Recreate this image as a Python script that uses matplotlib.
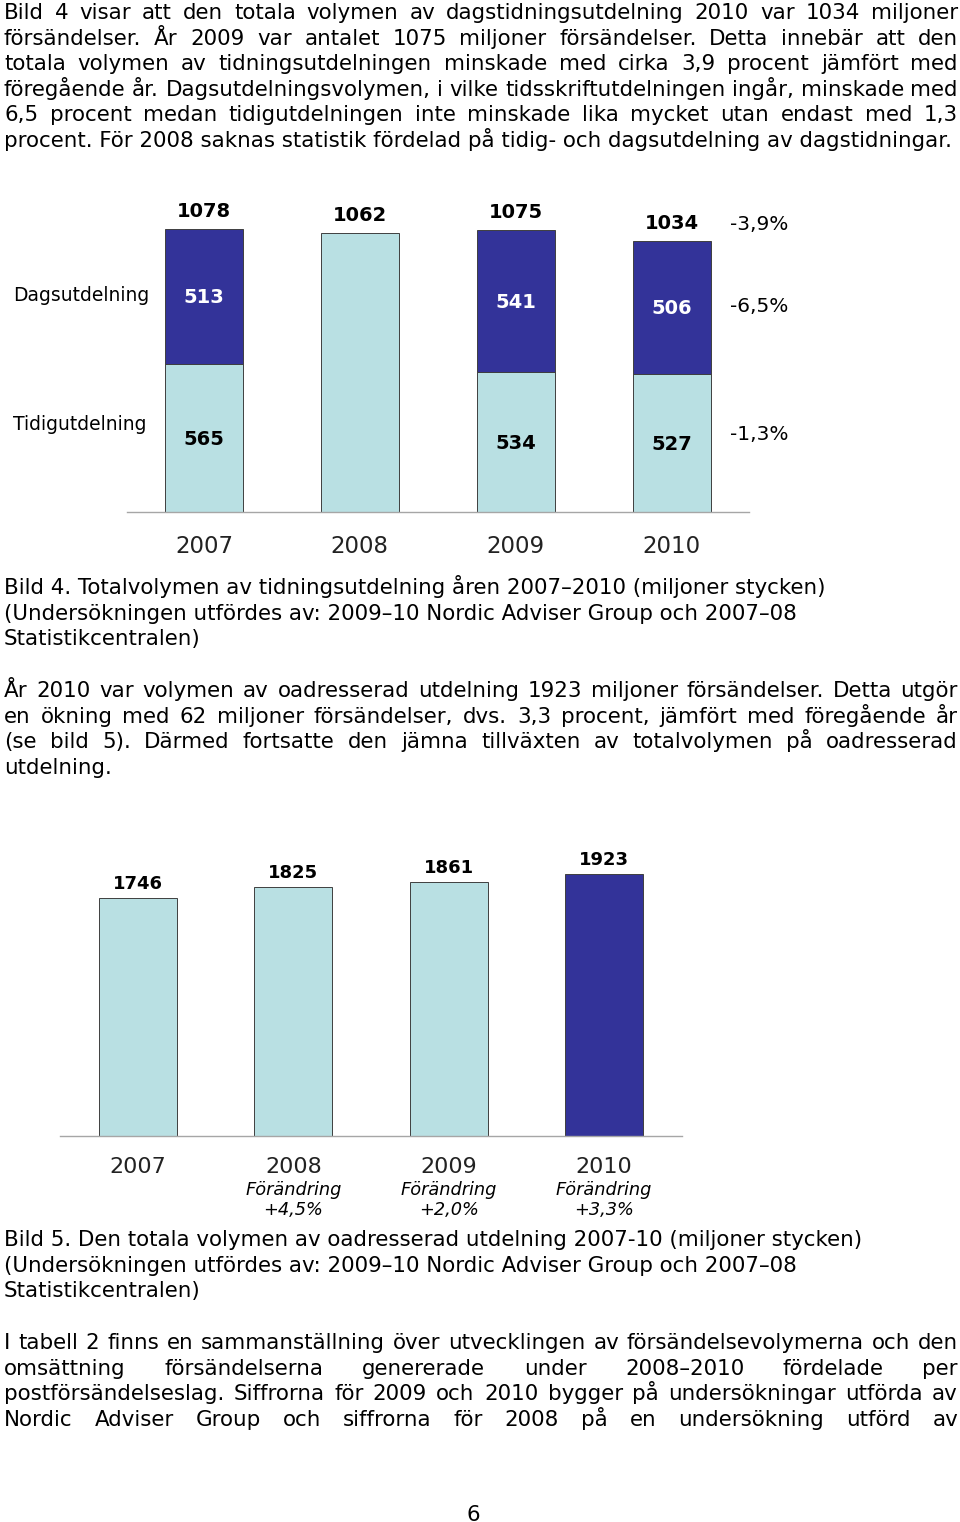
import matplotlib
matplotlib.use("Agg")
import matplotlib.pyplot as plt

W, H = 960, 1522

# --- chart data -----------------------------------------------------------
years = ["2007", "2008", "2009", "2010"]
tidig = [565, None, 534, 527]          # Tidigutdelning (miljoner)
dags = [513, None, 541, 506]           # Dagsutdelning (miljoner)
totals = [1078, 1062, 1075, 1034]
change_labels = ["-3,9%", "-6,5%", "-1,3%"]
row_labels = ["Dagsutdelning", "Tidigutdelning"]

unaddr_years = ["2007", "2008", "2009", "2010"]
unaddr = [1746, 1825, 1861, 1923]
unaddr_change = ["", "+4,5%", "+2,0%", "+3,3%"]

LIGHT = "#B9E0E3"
DARK = "#333399"
EDGE = "#3F3F3F"
AXIS = "#A6A6A6"

# --- page text ------------------------------------------------------------
para1 = [
    "Bild 4 visar att den totala volymen av dagstidningsutdelning 2010 var 1034 miljoner",
    "försändelser. År 2009 var antalet 1075 miljoner försändelser. Detta innebär att den",
    "totala volymen av tidningsutdelningen minskade med cirka 3,9 procent jämfört med",
    "föregående år. Dagsutdelningsvolymen, i vilke tidsskriftutdelningen ingår, minskade med",
    "6,5 procent medan tidigutdelningen inte minskade lika mycket utan endast med 1,3",
    "procent. För 2008 saknas statistik fördelad på tidig- och dagsutdelning av dagstidningar.",
]
caption4 = [
    "Bild 4. Totalvolymen av tidningsutdelning åren 2007–2010 (miljoner stycken)",
    "(Undersökningen utfördes av: 2009–10 Nordic Adviser Group och 2007–08",
    "Statistikcentralen)",
]
para2 = [
    "År 2010 var volymen av oadresserad utdelning 1923 miljoner försändelser. Detta utgör",
    "en ökning med 62 miljoner försändelser, dvs. 3,3 procent, jämfört med föregående år",
    "(se bild 5). Därmed fortsatte den jämna tillväxten av totalvolymen på oadresserad",
    "utdelning.",
]
caption5 = [
    "Bild 5. Den totala volymen av oadresserad utdelning 2007-10 (miljoner stycken)",
    "(Undersökningen utfördes av: 2009–10 Nordic Adviser Group och 2007–08",
    "Statistikcentralen)",
]
para3 = [
    "I tabell 2 finns en sammanställning över utvecklingen av försändelsevolymerna och den",
    "omsättning försändelserna genererade under 2008–2010 fördelade per",
    "postförsändelseslag. Siffrorna för 2009 och 2010 bygger på undersökningar utförda av",
    "Nordic Adviser Group och siffrorna för 2008 på en undersökning utförd av",
]

fig = plt.figure(figsize=(W / 100, H / 100), dpi=100)
renderer = fig.canvas.get_renderer()


def ptext(x, y, s, **kw):
    # place text using pixel coordinates measured from the top-left corner
    return fig.text(x / W, 1 - y / H, s, **kw)


def text_width(s, fs):
    t = fig.text(0, 0, s, fontsize=fs)
    w = t.get_window_extent(renderer).width
    t.remove()
    return w


# body font size fitted so the first caption line spans the same width
BODY_FS = 10 * 824 / text_width(caption4[0], 10)
X0, X1 = 4, 958
LINE = 25.6


def justified(lines, y0, last_justified=False):
    for i, line in enumerate(lines):
        y = y0 + i * LINE
        last = i == len(lines) - 1
        if last and not last_justified:
            ptext(X0, y, line, fontsize=BODY_FS, va="baseline")
            continue
        words = line.split(" ")
        widths = [text_width(w, BODY_FS) for w in words]
        gap = (X1 - X0 - sum(widths)) / (len(words) - 1)
        x = X0
        for w, wd in zip(words, widths):
            ptext(x, y, w, fontsize=BODY_FS, va="baseline")
            x += wd + gap


def plain(lines, y0):
    for i, line in enumerate(lines):
        ptext(X0, y0 + i * LINE, line, fontsize=BODY_FS, va="baseline")


justified(para1, 19)
plain(caption4, 594)
justified(para2, 697)
plain(caption5, 1246)
justified(para3, 1349, last_justified=True)
ptext(473, 1521, "6", fontsize=BODY_FS, va="baseline", ha="center")

# -----------------------------------------------------------------
# Bild 4: stacked bars, tidig + dags
# -----------------------------------------------------------------
ax1 = fig.add_axes([127 / W, 1 - 512 / H, 622 / W, 332 / H])
x = list(range(len(years)))
lower = [t if t is not None else tot for t, tot in zip(tidig, totals)]
ax1.bar(x, lower, width=0.5, color=LIGHT, edgecolor=EDGE, linewidth=0.7)
for i in x:
    if dags[i] is not None:
        ax1.bar(i, dags[i], bottom=tidig[i], width=0.5, color=DARK,
                edgecolor=EDGE, linewidth=0.7)
        ax1.annotate(str(dags[i]), (i, tidig[i] + dags[i] / 2),
                     xytext=(0, -7), textcoords="offset pixels",
                     ha="center", va="baseline", fontsize=14,
                     fontweight="bold", color="white")
        ax1.annotate(str(tidig[i]), (i, tidig[i] / 2),
                     xytext=(0, -7), textcoords="offset pixels",
                     ha="center", va="baseline", fontsize=14,
                     fontweight="bold", color="black")
    ax1.annotate(str(totals[i]), (i, totals[i]), xytext=(0, 12),
                 textcoords="offset pixels", ha="center", va="baseline",
                 fontsize=14, fontweight="bold")
    ax1.annotate(years[i], (i, 0), xytext=(0, -41),
                 textcoords="offset pixels", ha="center", va="baseline",
                 fontsize=16.5, color="#222222")

ax1.set_xlim(-0.494, 3.497)
ax1.set_ylim(0, 332 / 0.2625)
ax1.set_xticks([])
ax1.set_yticks([])
for side in ["top", "right", "left"]:
    ax1.spines[side].set_visible(False)
ax1.spines["bottom"].set_color(AXIS)
ax1.spines["bottom"].set_linewidth(1)

ptext(13, 301, row_labels[0], fontsize=13.5, va="baseline")
ptext(13, 430, row_labels[1], fontsize=13.5, va="baseline")
for lbl, y in zip(change_labels, [229.5, 311.5, 440.5]):
    ptext(730, y, lbl, fontsize=14.5, va="baseline")

# -----------------------------------------------------------------
# Bild 5: unaddressed volume
# -----------------------------------------------------------------
ax2 = fig.add_axes([60 / W, 1 - 1136 / H, 622 / W, 296 / H])
x2 = list(range(len(unaddr_years)))
colors = [LIGHT] * (len(unaddr) - 1) + [DARK]
ax2.bar(x2, unaddr, width=0.5, color=colors, edgecolor=EDGE, linewidth=0.7)
for i in x2:
    ax2.annotate(str(unaddr[i]), (i, unaddr[i]), xytext=(0, 9),
                 textcoords="offset pixels", ha="center", va="baseline",
                 fontsize=13, fontweight="bold")
    ax2.annotate(unaddr_years[i], (i, 0), xytext=(0, -37),
                 textcoords="offset pixels", ha="center", va="baseline",
                 fontsize=16, color="#222222")
    if unaddr_change[i]:
        ax2.annotate("Förändring", (i, 0), xytext=(0, -59),
                     textcoords="offset pixels", ha="center", va="baseline",
                     fontsize=12.8, style="italic")
        ax2.annotate(unaddr_change[i], (i, 0), xytext=(0, -79),
                     textcoords="offset pixels", ha="center", va="baseline",
                     fontsize=12.8, style="italic")

ax2.set_xlim(-0.502, 3.502)
ax2.set_ylim(0, 296 / 0.1363)
ax2.set_xticks([])
ax2.set_yticks([])
for side in ["top", "right", "left"]:
    ax2.spines[side].set_visible(False)
ax2.spines["bottom"].set_color(AXIS)
ax2.spines["bottom"].set_linewidth(1)

fig.savefig("out.png", dpi=100)
